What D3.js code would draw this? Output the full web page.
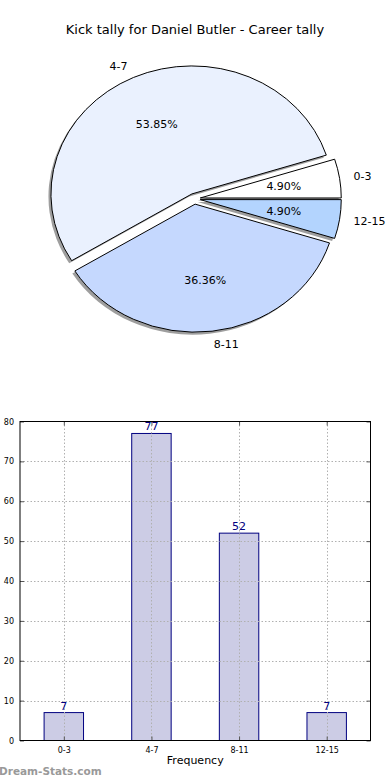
<!DOCTYPE html>
<html>
<head>
<meta charset="utf-8">
<script src="https://cdn.jsdelivr.net/npm/d3@7"></script>
<style>
  body { margin: 0; background: #fff; }
  svg { display: block; font-family: "DejaVu Sans", sans-serif; }
</style>
</head>
<body>
<svg id="chart" width="390" height="780"></svg>
<script>
// data
const categories = ['0-3', '4-7', '8-11', '12-15']
const tally = [7, 77, 52, 7]
const pieColors = ['#ffffff', '#eaf1fe', '#c5d8fe', '#b3d4fe']
const yTicks = [0, 10, 20, 30, 40, 50, 60, 70, 80]

const svg = d3.select('#chart')

svg.append('text')
  .attr('x', 195).attr('y', 34)
  .attr('text-anchor', 'middle')
  .style('font-size', '13px')
  .text('Kick tally for Daniel Butler - Career tally')

// ---- pie (matplotlib style: starts at 3 o'clock, counter clockwise, oval)
const cx = 194.4, cy = 198.8
const rx = 141, ry = 128
const explode = 0.042
const total = d3.sum(tally)

const pie = d3.pie().sort(null).value(d => d)
  .startAngle(Math.PI / 2).endAngle(Math.PI / 2 - 2 * Math.PI)
const arcs = pie(tally)
const arc = d3.arc().innerRadius(0).outerRadius(1)

const pieG = svg.append('g')

const offset = a => {
  const mid = (a.startAngle + a.endAngle) / 2
  const dx = Math.sin(mid), dy = -Math.cos(mid)
  return { dx, dy, ox: cx + explode * rx * dx, oy: cy + explode * ry * dy }
}

// shadows first
arcs.forEach(a => {
  const o = offset(a)
  pieG.append('path')
    .attr('d', arc(a))
    .attr('transform', `translate(${o.ox - 2.5},${o.oy + 2.5}) scale(${rx},${ry})`)
    .attr('fill', '#000')
    .attr('fill-opacity', 0.38)
})

arcs.forEach((a, i) => {
  const o = offset(a)
  pieG.append('path')
    .attr('d', arc(a))
    .attr('transform', `translate(${o.ox},${o.oy}) scale(${rx},${ry})`)
    .attr('fill', pieColors[i])
    .attr('stroke', '#000')
    .attr('stroke-width', 1)
    .attr('vector-effect', 'non-scaling-stroke')
})

arcs.forEach((a, i) => {
  const o = offset(a)
  pieG.append('text')
    .attr('x', o.ox + 1.1 * rx * o.dx)
    .attr('y', o.oy + 1.1 * ry * o.dy)
    .attr('dy', '0.35em')
    .attr('text-anchor', o.dx > 0 ? 'start' : 'end')
    .style('font-size', '11px')
    .text(categories[i])

  pieG.append('text')
    .attr('x', o.ox + 0.6 * rx * o.dx)
    .attr('y', o.oy + 0.6 * ry * o.dy)
    .attr('dy', '0.35em')
    .attr('text-anchor', 'middle')
    .style('font-size', '11px')
    .text((tally[i] / total * 100).toFixed(2) + '%')
})

// ---- bar chart
const pLeft = 20, pRight = 370.5, pTop = 421.5, pBottom = 740.5
const x = d3.scaleLinear().domain([-0.5, 3.5]).range([pLeft, pRight])
const y = d3.scaleLinear().domain([0, 80]).range([pBottom, pTop])
const barW = (x(0.45) - x(0))

svg.append('g').selectAll('rect.bar')
  .data(tally)
  .enter()
  .append('rect')
  .attr('class', 'bar')
  .attr('x', (d, i) => x(i) - barW / 2)
  .attr('y', d => y(d))
  .attr('width', barW)
  .attr('height', d => y(0) - y(d))
  .attr('fill', '#ccccE5')
  .attr('stroke', '#000080')
  .attr('stroke-width', 1)

// grid on top of bars
const grid = svg.append('g')
  .attr('stroke', '#b0b0b0')
  .attr('stroke-width', 1)
  .attr('stroke-dasharray', '1.5,2')
grid.selectAll('line.gy')
  .data(yTicks.slice(1, -1))
  .enter().append('line')
  .attr('x1', pLeft).attr('x2', pRight)
  .attr('y1', d => Math.round(y(d)) + 0.5).attr('y2', d => Math.round(y(d)) + 0.5)
grid.selectAll('line.gx')
  .data(categories)
  .enter().append('line')
  .attr('x1', (d, i) => Math.round(x(i)) + 0.5).attr('x2', (d, i) => Math.round(x(i)) + 0.5)
  .attr('y1', pTop).attr('y2', pBottom)

// axes (ticks inside)
const styleAxis = g => {
  g.select('.domain').remove()
  g.selectAll('text').style('font-size', '8px').style('font-family', '"DejaVu Sans", sans-serif').attr('fill', '#000')
  g.selectAll('line').attr('stroke', '#555')
}

svg.append('g')
  .attr('transform', `translate(${pLeft},0)`)
  .call(d3.axisLeft(y).tickValues(yTicks).tickSize(-4).tickPadding(6))
  .call(styleAxis)

svg.append('g')
  .attr('transform', `translate(${pRight},0)`)
  .call(d3.axisRight(y).tickValues(yTicks).tickSize(-4).tickFormat(''))
  .call(styleAxis)

svg.append('g')
  .attr('transform', `translate(0,${pBottom})`)
  .call(d3.axisBottom(x).tickValues([0, 1, 2, 3]).tickSize(-4).tickPadding(7).tickFormat(i => categories[i]))
  .call(styleAxis)

svg.append('g')
  .attr('transform', `translate(0,${pTop})`)
  .call(d3.axisTop(x).tickValues([0, 1, 2, 3]).tickSize(-4).tickFormat(''))
  .call(styleAxis)

svg.append('rect')
  .attr('x', pLeft).attr('y', pTop)
  .attr('width', pRight - pLeft).attr('height', pBottom - pTop)
  .attr('fill', 'none')
  .attr('stroke', '#000')
  .attr('stroke-width', 1)

// value labels
svg.selectAll('text.val')
  .data(tally)
  .enter()
  .append('text')
  .attr('class', 'val')
  .attr('x', (d, i) => x(i))
  .attr('y', d => y(d) - 3)
  .attr('text-anchor', 'middle')
  .attr('fill', '#000080')
  .style('font-size', '11px')
  .text(d => d)

svg.append('text')
  .attr('x', (pLeft + pRight) / 2).attr('y', 764)
  .attr('text-anchor', 'middle')
  .style('font-size', '11px')
  .text('Frequency')

svg.append('text')
  .attr('x', -1).attr('y', 775)
  .attr('fill', '#999')
  .style('font-size', '10.5px')
  .style('font-weight', 'bold')
  .text('Dream-Stats.com')
</script>
</body>
</html>
